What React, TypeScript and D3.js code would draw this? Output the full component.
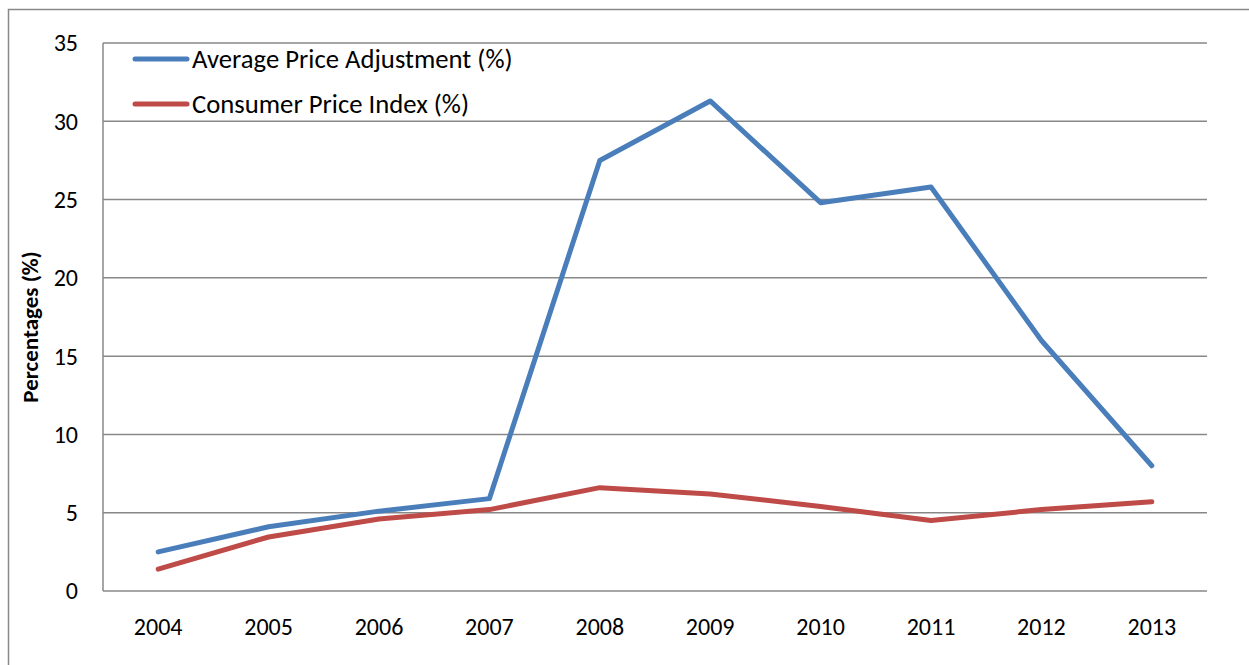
import React from 'react';
import * as d3 from 'd3';

// Daten
const years = ['2004', '2005', '2006', '2007', '2008', '2009', '2010', '2011', '2012', '2013'];
const avgPriceAdjustment = [2.5, 4.1, 5.1, 5.9, 27.5, 31.3, 24.8, 25.8, 16.0, 8.0];
const consumerPriceIndex = [1.4, 3.45, 4.6, 5.2, 6.6, 6.2, 5.4, 4.5, 5.2, 5.7];
const yTicks = [0, 5, 10, 15, 20, 25, 30, 35];
const seriesNames = ['Average Price Adjustment (%)', 'Consumer Price Index (%)'];
const seriesColors = ['#4a7ebb', '#be4b48'];

const W = 1249;
const H = 665;
const FONT = 'Carlito, Calibri, "Open Sans", sans-serif';

const App: React.FC = () => {
    const left = 103;
    const right = 1207;
    const top = 43;
    const bottom = 591;

    const x = d3.scaleBand<string>().domain(years).range([left, right]);
    const y = d3.scaleLinear().domain([0, 35]).range([bottom, top]);

    const line = d3.line<number>()
        .x((_, i) => x(years[i])! + x.bandwidth() / 2)
        .y(d => y(d));

    const series = [avgPriceAdjustment, consumerPriceIndex];

    return (
        <svg width={W} height={H} style={{position: 'absolute', left: 0, top: 0}} fontFamily={FONT}>
            <rect x={0} y={0} width={W} height={H} fill="#fff"/>
            {/* Rahmen */}
            <rect x={8.5} y={9.5} width={W + 20} height={H + 20} fill="none" stroke="#888" strokeWidth={1.5}/>

            {/* Gitterlinien */}
            {yTicks.map(t => (
                <line key={t} x1={left} x2={right} y1={y(t)} y2={y(t)} stroke="#888" strokeWidth={1.5}/>
            ))}
            <line x1={left} x2={left} y1={top} y2={bottom} stroke="#888" strokeWidth={1.5}/>

            {/* Y-Achse */}
            {yTicks.map(t => (
                <text key={t} x={78} y={y(t)} dy="0.35em" textAnchor="end" fontSize={24} fill="#000">{t}</text>
            ))}
            <text transform={`translate(38, ${(top + bottom) / 2 + 10}) rotate(-90)`} textAnchor="middle"
                  fontSize={23} fontWeight="bold" fill="#000">Percentages (%)</text>

            {/* X-Achse */}
            {years.map(yr => (
                <text key={yr} x={x(yr)! + x.bandwidth() / 2} y={627} dy="0.35em" textAnchor="middle"
                      fontSize={24} fill="#000">{yr}</text>
            ))}

            {/* Linien */}
            {series.map((s, i) => (
                <path key={i} d={line(s)!} fill="none" stroke={seriesColors[i]} strokeWidth={5}
                      strokeLinejoin="round" strokeLinecap="round"/>
            ))}

            {/* Legende */}
            {seriesNames.map((n, i) => (
                <g key={n} transform={`translate(0, ${59 + i * 45})`}>
                    <line x1={135} x2={187} y1={0} y2={0} stroke={seriesColors[i]} strokeWidth={5}
                          strokeLinecap="round"/>
                    <text x={192} y={0} dy="0.35em" fontSize={26.7} fill="#000">{n}</text>
                </g>
            ))}
        </svg>
    );
};

export default App;
